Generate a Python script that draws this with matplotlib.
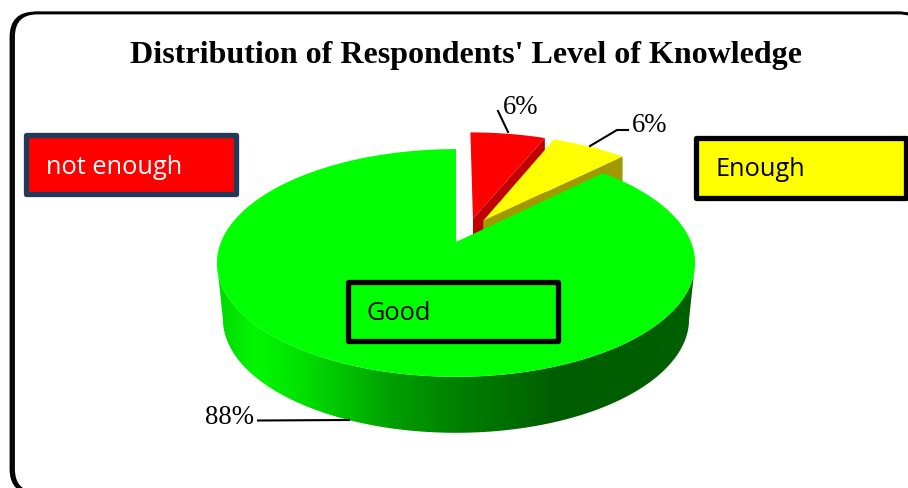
import numpy as np
import matplotlib
matplotlib.use("Agg")
import matplotlib.pyplot as plt
from matplotlib.patches import FancyBboxPatch, Polygon, Rectangle

title = "Distribution of Respondents' Level of Knowledge"
slices = ["not enough", "Enough", "Good"]
values = [6.25, 6.25, 87.5]
top_colors = ["#ff0000", "#ffff00", "#00ff00"]
side_colors = ["#c00000", "#a09a00", "#006000"]
pct_labels = ["6%", "6%", "88%"]

# fake 3D pie: circle in the plane, then a perspective projection to pixels
CX, CY = 456, 243
R, RY, K = 235, 110, 0.184
DEPTH = 56
# how far each slice is pulled out, in circle units
explode = [(0.075, 0.22), (0.12, 0.20), (0.0, 0.0)]


def project(theta, r=1.0, off=(0, 0), low=False):
    u = r * np.cos(theta) + off[0]
    v = r * np.sin(theta) + off[1]
    s = 1 / (1 + K * v)
    x = R * u * s
    y = CY - RY * v * s
    if low:
        return np.column_stack([CX + 0.975 * x, y + DEPTH])
    return np.column_stack([CX + x, y])


fig = plt.figure(figsize=(9.08, 4.89), dpi=100)
ax = fig.add_axes([0, 0, 1, 1])
ax.set_xlim(0, 908)
ax.set_ylim(489, 0)
ax.axis("off")

# outer frame runs off the image on the right and bottom, left side is heavier than the top
for n, fx in enumerate([11, 13.5]):
    ax.add_patch(FancyBboxPatch((fx, 14), 923 - fx, 480, boxstyle="round,pad=0,rounding_size=24",
                                fc="white", ec="black", lw=2.0, zorder=1 + n * 0.1))

# slice angles, clockwise from the top
frac = np.cumsum([0] + values) / sum(values)
starts = np.pi / 2 - 2 * np.pi * frac[:-1]
ends = np.pi / 2 - 2 * np.pi * frac[1:]

z = 2
for i in range(2):
    off = explode[i]
    arc = project(np.linspace(starts[i], ends[i], 40), off=off)
    apex = project(np.array([0.0]), r=0, off=off)
    tip = arc[-1:]
    low_shift = np.array([0, DEPTH])
    side = np.vstack([apex, tip, tip + low_shift, apex + low_shift])
    ax.add_patch(Polygon(side, fc=side_colors[i], ec="none", zorder=z))
    ax.add_patch(Polygon(np.vstack([apex, arc]), fc=top_colors[i], ec="none", zorder=z + 1))
    z += 2

# front wall of the big slice, shaded left to right
lean = np.arcsin(K)
front = np.linspace(np.pi + lean, 2 * np.pi - lean, 200)
wall = np.vstack([project(front), project(front[::-1], low=True)])
wall_patch = Polygon(wall, fc="none", ec="none", transform=ax.transData)
ax.add_patch(wall_patch)
grad_x = [216, 257, 300, 350, 390, 457, 523, 557, 694]
grad_g = [215, 248, 225, 190, 160, 128, 106, 92, 96]
xs = np.arange(216, 695)
grad = np.zeros((1, len(xs), 3))
grad[0, :, 1] = np.interp(xs, grad_x, grad_g) / 255
img = ax.imshow(grad, extent=[216, 694, 440, 250], aspect="auto", zorder=z, interpolation="bilinear")
img.set_clip_path(wall_patch)
ax.set_xlim(0, 908)
ax.set_ylim(489, 0)

big = project(np.linspace(starts[2], ends[2], 400))
ax.add_patch(Polygon(np.vstack([[CX, CY], big]), fc=top_colors[2], ec="none", zorder=z + 1))

# leader lines and percent labels
serif = "Liberation Serif"
ax.plot([498, 508], [112, 133], color="black", lw=1.5, zorder=12)
ax.plot([590, 617, 628], [147, 131, 131], color="black", lw=1.5, zorder=12)
ax.plot([258, 349], [421.5, 421], color="black", lw=1.5, zorder=12)
for s, (x, y) in zip(pct_labels, [(521, 107), (650, 125), (230, 417)]):
    ax.text(x, y, s, family=serif, fontsize=19.3, ha="center", va="center", color="black", zorder=13)

ax.text(466, 56, title, family=serif, fontsize=23, fontweight="bold", ha="center", va="center", zorder=13)

# the three name boxes
box_pos = [(26, 136, 210, 58.5), (695.5, 139, 210, 59.5), (348, 283, 209.5, 59)]
box_edge = ["#203a5a", "black", "black"]
text_col = ["white", "black", "black"]
text_x = [46, 716, 367]
text_y = [168, 170, 314]
for i in range(3):
    x, y, w, h = box_pos[i]
    ax.add_patch(Rectangle((x, y), w, h, fc=top_colors[i], ec=box_edge[i], lw=3.8,
                           joinstyle="round", zorder=14))
    ax.text(text_x[i], text_y[i], slices[i], family="Open Sans", fontsize=18.3, color=text_col[i],
            ha="left", va="center", zorder=15)

fig.savefig("out.png", dpi=100)
